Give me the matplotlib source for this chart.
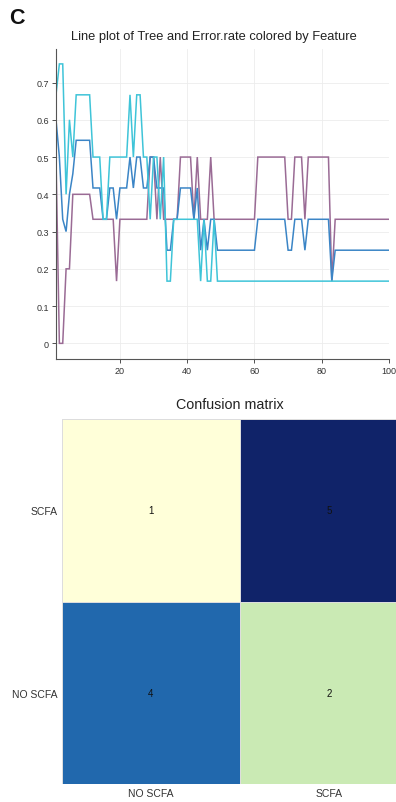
import numpy as np
import matplotlib
matplotlib.use("Agg")
import matplotlib.pyplot as plt

plt.rcParams['font.family'] = ['Liberation Sans', 'DejaVu Sans']

# ---------------- data ----------------
trees = list(range(1, 101))

err_purple = [0.5, 0.0, 0.0, 0.2, 0.2,
              0.4, 0.4, 0.4, 0.4, 0.4, 0.4,
              0.333, 0.333, 0.333, 0.333, 0.333, 0.333, 0.333,
              0.167,
              0.333, 0.333, 0.333, 0.333, 0.333, 0.333, 0.333, 0.333, 0.333,
              0.5, 0.5, 0.333, 0.5, 0.333,
              0.333, 0.333, 0.333, 0.333,
              0.5, 0.5, 0.5, 0.5,
              0.333, 0.5,
              0.333, 0.333, 0.333,
              0.5,
              0.333, 0.333, 0.333, 0.333, 0.333, 0.333, 0.333, 0.333, 0.333, 0.333, 0.333, 0.333, 0.333,
              0.5, 0.5, 0.5, 0.5, 0.5, 0.5, 0.5, 0.5, 0.5,
              0.333, 0.333,
              0.5, 0.5, 0.5,
              0.333,
              0.5, 0.5, 0.5, 0.5, 0.5, 0.5, 0.5,
              0.167,
              0.333, 0.333, 0.333, 0.333, 0.333, 0.333, 0.333, 0.333, 0.333,
              0.333, 0.333, 0.333, 0.333, 0.333, 0.333, 0.333, 0.333]

err_blue = [0.6, 0.5, 0.333, 0.3, 0.4, 0.455,
            0.545, 0.545, 0.545, 0.545, 0.545,
            0.417, 0.417, 0.417,
            0.333, 0.333,
            0.417, 0.417,
            0.333,
            0.417, 0.417, 0.417,
            0.5,
            0.417,
            0.5, 0.5,
            0.417, 0.417,
            0.5, 0.5,
            0.417, 0.417, 0.417,
            0.25, 0.25,
            0.333, 0.333,
            0.417, 0.417, 0.417, 0.417,
            0.333,
            0.417,
            0.25, 0.333, 0.25, 0.333, 0.333,
            0.25, 0.25, 0.25, 0.25, 0.25, 0.25, 0.25, 0.25, 0.25, 0.25, 0.25, 0.25,
            0.333, 0.333, 0.333, 0.333, 0.333, 0.333, 0.333, 0.333, 0.333,
            0.25, 0.25,
            0.333, 0.333, 0.333,
            0.25,
            0.333, 0.333, 0.333, 0.333, 0.333, 0.333, 0.333,
            0.167,
            0.25, 0.25, 0.25, 0.25, 0.25, 0.25, 0.25, 0.25, 0.25,
            0.25, 0.25, 0.25, 0.25, 0.25, 0.25, 0.25, 0.25]

err_cyan = [0.667, 0.75, 0.75, 0.4, 0.6, 0.5,
            0.667, 0.667, 0.667, 0.667, 0.667,
            0.5, 0.5, 0.5,
            0.333, 0.333,
            0.5, 0.5, 0.5, 0.5, 0.5, 0.5,
            0.667,
            0.5,
            0.667, 0.667,
            0.5, 0.5,
            0.333,
            0.5, 0.5,
            0.333,
            0.5,
            0.167, 0.167,
            0.333, 0.333, 0.333, 0.333, 0.333, 0.333, 0.333, 0.333,
            0.167,
            0.333,
            0.167, 0.167,
            0.333,
            0.167, 0.167, 0.167, 0.167, 0.167, 0.167, 0.167, 0.167, 0.167, 0.167,
            0.167, 0.167, 0.167, 0.167, 0.167, 0.167, 0.167, 0.167, 0.167, 0.167,
            0.167, 0.167, 0.167, 0.167, 0.167, 0.167, 0.167, 0.167, 0.167, 0.167,
            0.167, 0.167, 0.167, 0.167, 0.167, 0.167, 0.167, 0.167, 0.167, 0.167,
            0.167, 0.167, 0.167, 0.167, 0.167, 0.167, 0.167, 0.167, 0.167, 0.167,
            0.167, 0.167]

y_ticks = [0, 0.1, 0.2, 0.3, 0.4, 0.5, 0.6, 0.7]
x_ticks = [20, 40, 60, 80, 100]

cm_rows = ["SCFA", "NO SCFA"]       # top to bottom
cm_cols = ["NO SCFA", "SCFA"]
cm_values = [[1, 5],
             [4, 2]]

# ---------------- figure ----------------
fig = plt.figure(figsize=(3.96, 8.03), dpi=100)

fig.text(9/396, 1 - 19/803, "C", fontsize=15.5, fontweight='bold', va='center', ha='left',
         color='#111111')

ax = fig.add_axes([56/396, 1 - 360/803, (389 - 56)/396, (360 - 50)/803])
series = [(err_purple, '#9a6b95'), (err_blue, '#3b85c6'), (err_cyan, '#3fc4d8')]
for vals, col in series:
    ax.plot(trees, vals, color=col, lw=1.1, solid_joinstyle='miter')
ax.set_xlim(1, 100)
ax.set_ylim(-0.042, 0.79)
ax.set_xticks(x_ticks)
ax.set_yticks(y_ticks)
ax.set_yticklabels([f"{v:g}" for v in y_ticks])
ax.grid(True, color='#ececec', lw=0.6)
ax.set_axisbelow(True)
for s in ['top', 'right']:
    ax.spines[s].set_visible(False)
for s in ['left', 'bottom']:
    ax.spines[s].set_color('#555555')
    ax.spines[s].set_linewidth(0.8)
ax.tick_params(labelsize=6.5, colors='#333333', length=3, width=0.6, pad=2)
ax.set_title("Line plot of Tree and Error.rate colored by Feature", fontsize=9.3,
             color='#222222', pad=7, x=(214 - 56)/(389 - 56))

# ---------------- confusion matrix ----------------
# axes extends past the right figure edge (right column is clipped, as in the reference)
ax2 = fig.add_axes([62/396, 1 - 785/803, (418 - 62)/396, (785 - 420)/803])
arr = np.array(cm_values)
ax2.pcolormesh(arr[::-1], cmap='YlGnBu', vmin=1, vmax=5.15,
               edgecolors='#dddddd', linewidth=0.6)
ax2.set_xlim(0, 2)
ax2.set_ylim(0, 2)
nr = len(cm_rows)
for i in range(nr):
    for j in range(len(cm_cols)):
        ax2.text(j + 0.5, nr - 1 - i + 0.5, str(cm_values[i][j]), ha='center',
                 va='center', fontsize=7, color='#111111')
ax2.set_xticks([j + 0.5 for j in range(len(cm_cols))])
ax2.set_xticklabels(cm_cols)
ax2.set_yticks([nr - 1 - i + 0.5 for i in range(nr)])
ax2.set_yticklabels(cm_rows)
ax2.tick_params(length=0, labelsize=7.5, colors='#333333', pad=3)
for s in ax2.spines.values():
    s.set_visible(False)
ax2.set_title("Confusion matrix", fontsize=10.3, color='#222222', pad=8,
              x=(230 - 62)/(418 - 62))

fig.savefig("out.png", dpi=100)
